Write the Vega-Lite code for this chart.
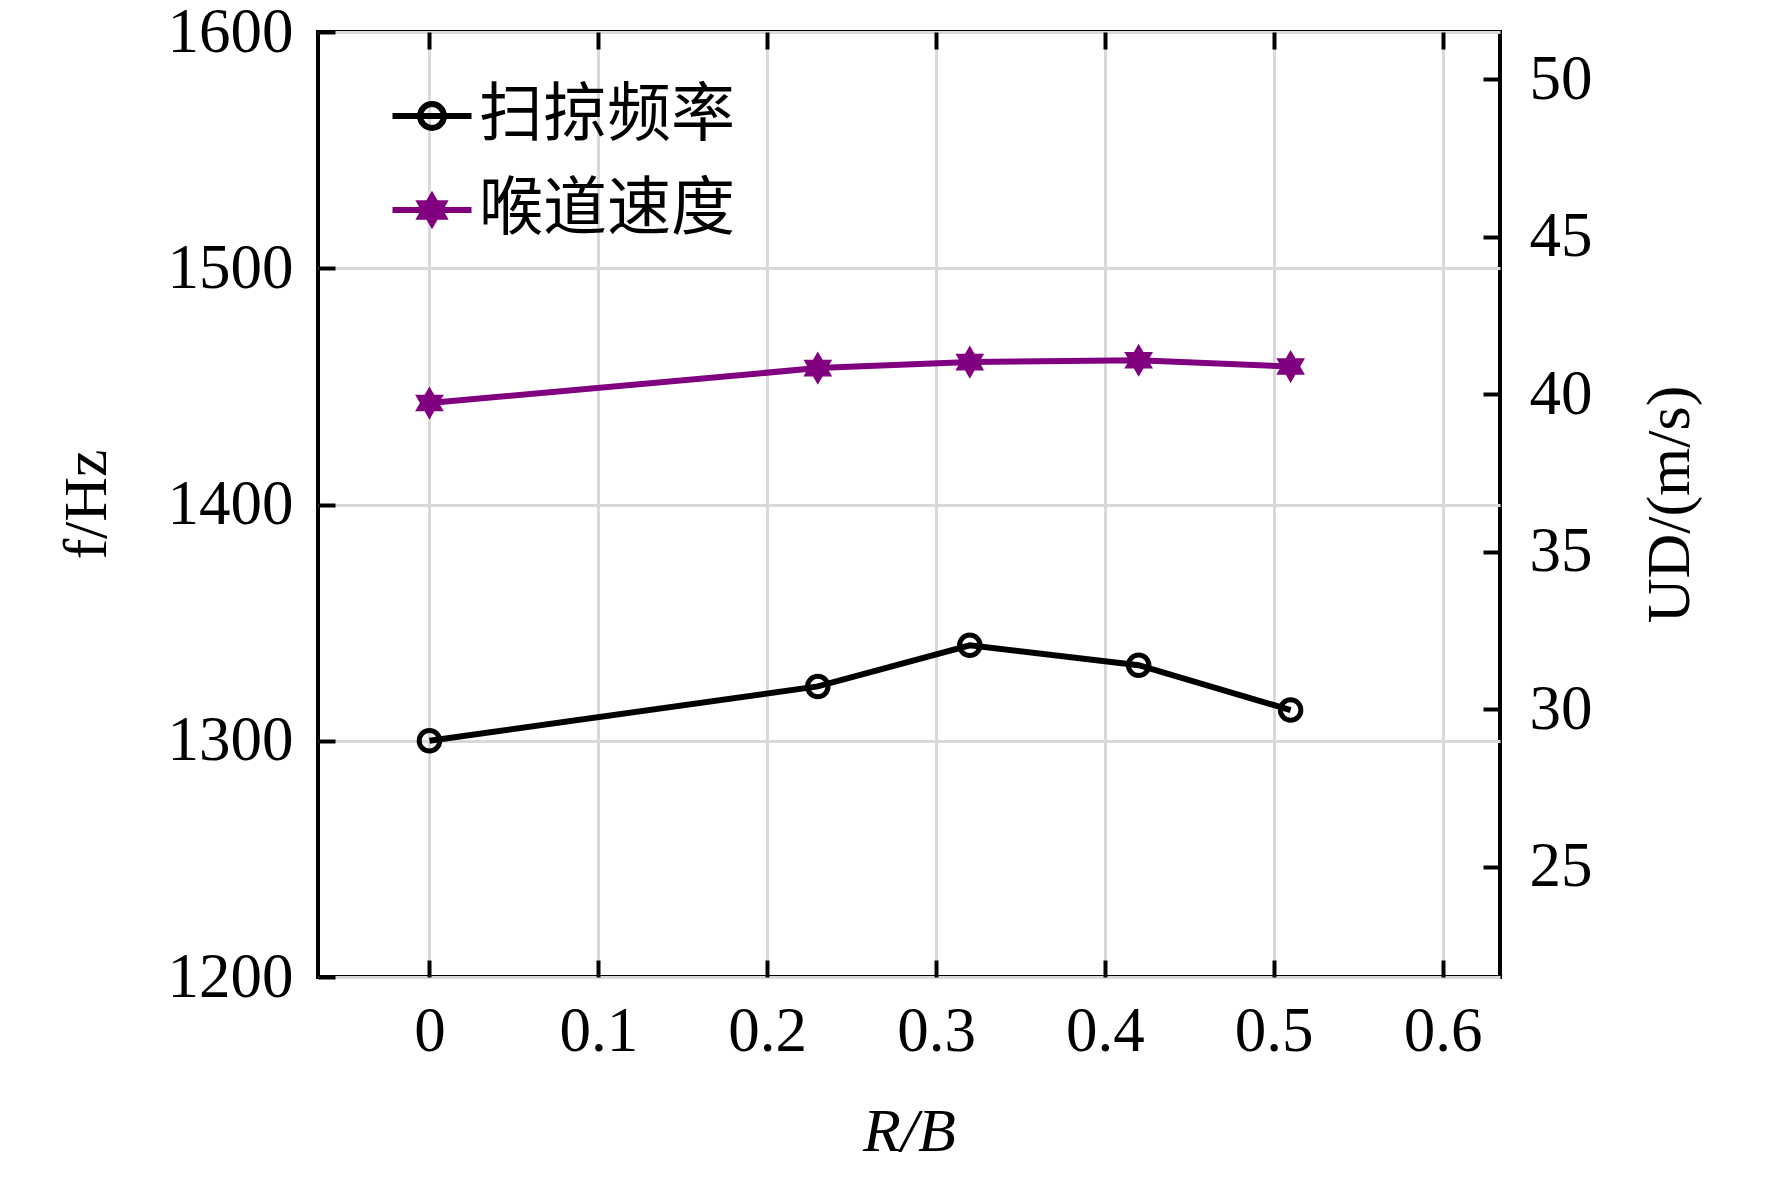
{
  "$schema": "https://vega.github.io/schema/vega-lite/v6.json",
  "autosize": "none",
  "padding": {"left": 318, "top": 32, "right": 272, "bottom": 200},
  "width": 1182,
  "height": 945,
  "background": "white",
  "config": {
    "view": {"stroke": "black", "strokeWidth": 4},
    "axis": {
      "domain": false,
      "labelFont": "Liberation Serif",
      "labelFontSize": 63,
      "labelColor": "black",
      "titleFont": "Liberation Serif",
      "titleFontSize": 62,
      "titleFontWeight": "normal",
      "titleColor": "black",
      "tickColor": "black",
      "tickWidth": 4,
      "tickSize": -17,
      "gridColor": "#d9d9d9",
      "gridWidth": 3,
      "gridOpacity": 1
    }
  },
  "data": {
    "values": [
      {"rb": 0, "series": "扫掠频率", "value": 1300},
      {"rb": 0.23, "series": "扫掠频率", "value": 1323},
      {"rb": 0.32, "series": "扫掠频率", "value": 1340.4},
      {"rb": 0.42, "series": "扫掠频率", "value": 1332},
      {"rb": 0.51, "series": "扫掠频率", "value": 1313},
      {"rb": 0, "series": "喉道速度", "value": 39.72},
      {"rb": 0.23, "series": "喉道速度", "value": 40.83},
      {"rb": 0.32, "series": "喉道速度", "value": 41.02},
      {"rb": 0.42, "series": "喉道速度", "value": 41.08},
      {"rb": 0.51, "series": "喉道速度", "value": 40.88}
    ]
  },
  "layer": [
    {
      "transform": [{"filter": "datum.series === '扫掠频率'"}],
      "mark": {
        "type": "line",
        "strokeWidth": 6,
        "point": {"shape": "circle", "filled": false, "size": 420, "strokeWidth": 5}
      },
      "encoding": {
        "x": {
          "field": "rb",
          "type": "quantitative",
          "scale": {"domain": [-0.066, 0.634], "nice": false, "zero": false},
          "axis": {
            "orient": "bottom",
            "values": [0, 0.1, 0.2, 0.3, 0.4, 0.5, 0.6],
            "labelExpr": "datum.value === 0 ? '0' : format(datum.value, '.1f')",
            "labelPadding": 40,
            "grid": true,
            "title": "R/B",
            "titleFontStyle": "italic",
            "titleBaseline": "middle",
            "titleY": 154
          }
        },
        "y": {
          "field": "value",
          "type": "quantitative",
          "scale": {"domain": [1200, 1600], "nice": false, "zero": false},
          "axis": {
            "orient": "left",
            "values": [1200, 1300, 1400, 1500, 1600],
            "format": "d",
            "labelPadding": 42,
            "grid": true,
            "title": "f/Hz",
            "titleAngle": -90,
            "titleBaseline": "middle",
            "titleX": -232,
            "titleY": 472
          }
        },
        "color": {
          "field": "series",
          "type": "nominal",
          "scale": {"domain": ["扫掠频率", "喉道速度"], "range": ["black", "#800080"]},
          "legend": {
            "title": null,
            "orient": "none",
            "legendX": 82,
            "legendY": 52,
            "labelFont": "Noto Sans CJK SC",
            "labelFontSize": 64,
            "labelColor": "black",
            "labelLimit": 0,
            "labelOffset": 15,
            "rowPadding": 30,
            "symbolSize": 2600,
            "symbolStrokeWidth": 6,
            "encode": {
              "symbols": {
                "update": {
                  "shape": {"signal": "datum.value === '扫掠频率' ? 'M-1.55,0L1.55,0M-0.47,0A0.47,0.47 0 1,0 0.47,0A0.47,0.47 0 1,0 -0.47,0' : 'M-1.55,0L1.55,0M0,-0.52L0.15,-0.26L0.45,-0.26L0.3,0L0.45,0.26L0.15,0.26L0,0.52L-0.15,0.26L-0.45,0.26L-0.3,0L-0.45,-0.26L-0.15,-0.26Z'"},
                  "fillOpacity": {"signal": "datum.value === '扫掠频率' ? 0 : 1"}
                }
              }
            }
          }
        }
      }
    },
    {
      "transform": [{"filter": "datum.series === '喉道速度'"}],
      "mark": {
        "type": "line",
        "strokeWidth": 6,
        "point": {
          "shape": "M0,-1L0.289,-0.5L0.866,-0.5L0.577,0L0.866,0.5L0.289,0.5L0,1L-0.289,0.5L-0.866,0.5L-0.577,0L-0.866,-0.5L-0.289,-0.5Z",
          "filled": true,
          "size": 1100
        }
      },
      "encoding": {
        "x": {
          "field": "rb",
          "type": "quantitative",
          "axis": {
            "orient": "top",
            "values": [0, 0.1, 0.2, 0.3, 0.4, 0.5, 0.6],
            "labels": false,
            "grid": false,
            "title": null
          }
        },
        "y": {
          "field": "value",
          "type": "quantitative",
          "scale": {"domain": [21.5, 51.5], "nice": false, "zero": false},
          "axis": {
            "orient": "right",
            "values": [25, 30, 35, 40, 45, 50],
            "labelPadding": 46,
            "grid": false,
            "title": "UD/(m/s)",
            "titleAngle": -90,
            "titleBaseline": "middle",
            "titleX": 169,
            "titleY": 472
          }
        },
        "color": {"field": "series", "type": "nominal"}
      }
    }
  ],
  "resolve": {"scale": {"y": "independent"}, "axis": {"x": "independent", "y": "independent"}}
}
